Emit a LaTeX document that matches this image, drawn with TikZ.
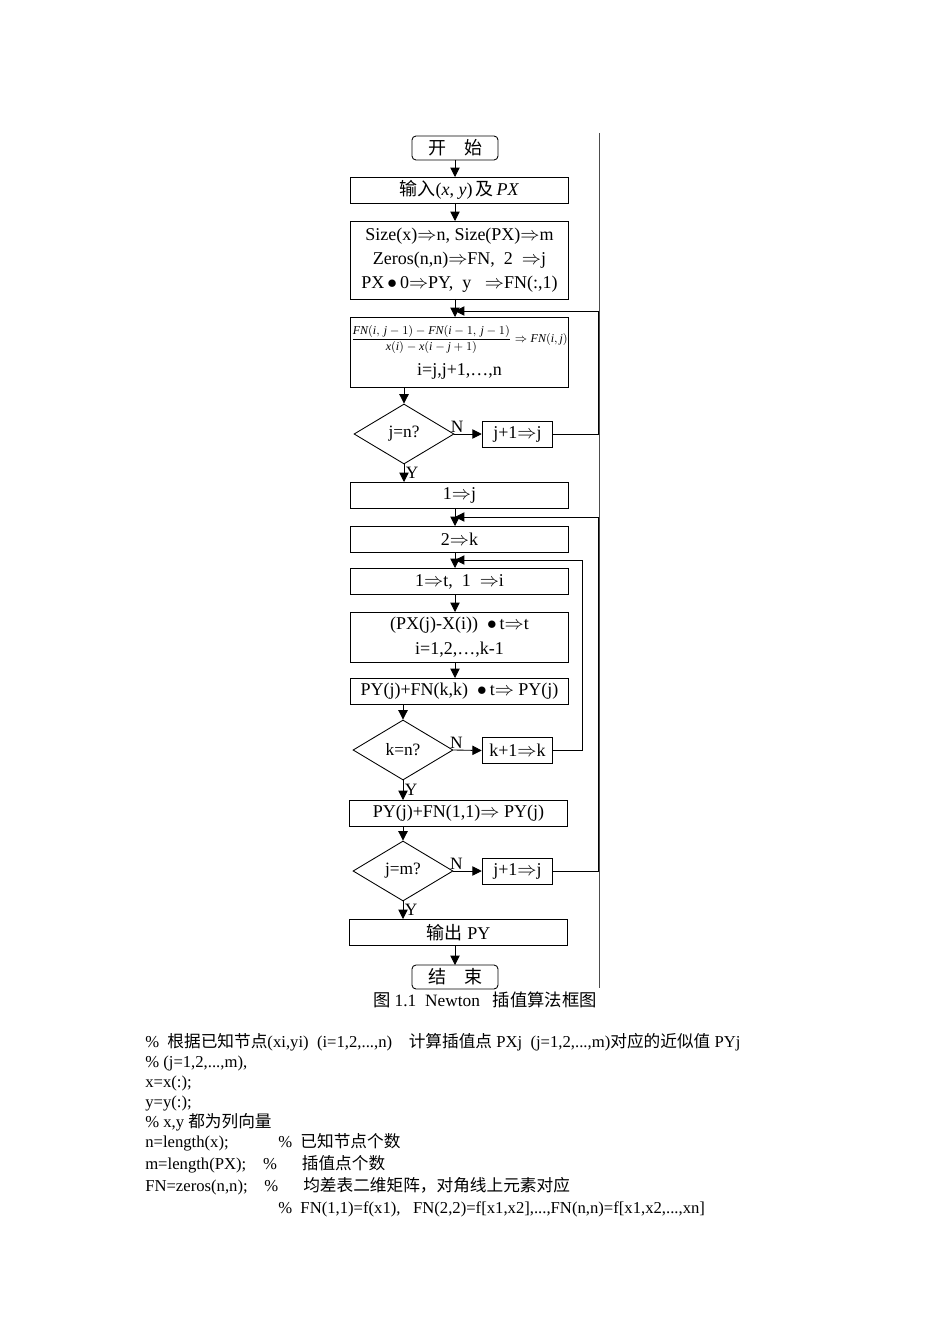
\documentclass[tikz,border=0pt]{standalone}
\usepackage{fontspec}
\setmainfont{Liberation Serif}
\newfontfamily\cjk{Noto Sans CJK SC}
\usetikzlibrary{arrows.meta,shapes.geometric}
\newcommand{\iv}[1]{\textit{#1}}
\begin{document}
\begin{tikzpicture}[x=0.75pt,y=-0.75pt,
  box/.style={draw,line width=0.65pt,inner sep=0pt,align=center,font=\fontsize{13.5}{18}\selectfont},
  term/.style={box,rounded corners=3pt},
  dia/.style={draw,line width=0.65pt,diamond,aspect=1.67,inner sep=0pt,minimum width=75pt,minimum height=45pt,font=\fontsize{13}{14}\selectfont},
  ar/.style={line width=0.65pt,-{Triangle[length=7pt,width=7pt]}},
  ln/.style={line width=0.65pt},
  lab/.style={font=\fontsize{13}{14}\selectfont,inner sep=1pt}]
\useasboundingbox (0,0) rectangle (950,1344);
\node[term,minimum width=64.5pt,minimum height=18pt] (start) at (455,148) {{\cjk 开\quad 始}};
\node[box,minimum width=163pt,minimum height=19.5pt] (in) at (459.5,190) {{\cjk 输入}(\iv{x}, \iv{y})\,{\cjk 及}\,\iv{PX}};
\node[box,minimum width=163pt,minimum height=58.5pt] (init) at (459.5,260) {Size(x)$\Rightarrow$n, Size(PX)$\Rightarrow$m\\Zeros(n,n)$\Rightarrow$FN,\ \ 2\ \ $\Rightarrow$j\\PX\,$\bullet$\,0$\Rightarrow$PY,\ \ y\ \ \ $\Rightarrow$FN(:,1)};
\node[box,minimum width=163pt,minimum height=53pt,font=\fontsize{13.5}{15}\selectfont] (dd) at (459.5,352.5) {\fontsize{9}{10}\selectfont$\displaystyle\frac{\iv{FN}(\iv{i},\,\iv{j}-1)-\iv{FN}(\iv{i}-1,\,\iv{j}-1)}{\iv{x}(\iv{i})-\iv{x}(\iv{i}-\iv{j}+1)}\Rightarrow \iv{FN}(\iv{i},\iv{j})$\\[7pt]\fontsize{13.5}{15}\selectfont i=j,j+1,\dots,n};
\node[dia] (d1) at (404,434) {j=n?};
\node[box,minimum width=53pt,minimum height=19.5pt] (b1) at (517.5,434) {j+1$\Rightarrow$j};
\node[box,minimum width=163pt,minimum height=20pt] (j1) at (459.5,495.5) {1$\Rightarrow$j};
\node[box,minimum width=163pt,minimum height=19.5pt] (k2) at (459.5,539) {2$\Rightarrow$k};
\node[box,minimum width=163pt,minimum height=20pt] (t1) at (459.5,581.5) {1$\Rightarrow$t,\ \ 1\ \ $\Rightarrow$i};
\node[box,minimum width=163pt,minimum height=37.5pt,font=\fontsize{13.5}{19}\selectfont] (pt) at (459.5,637) {(PX(j)-X(i))\ \ $\bullet$\,t$\Rightarrow$t\\i=1,2,\dots,k-1};
\node[box,minimum width=163pt,minimum height=20pt] (py) at (459.5,691.5) {PY(j)+FN(k,k)\ \ $\bullet$\,t$\Rightarrow$\ PY(j)};
\node[dia] (d2) at (403,750) {k=n?};
\node[box,minimum width=53pt,minimum height=20pt] (b2) at (517.5,750.5) {k+1$\Rightarrow$k};
\node[box,minimum width=163pt,minimum height=19.5pt] (py1) at (458.5,813) {PY(j)+FN(1,1)$\Rightarrow$\ PY(j)};
\node[dia] (d3) at (403,871) {j=m?};
\node[box,minimum width=53pt,minimum height=19.5pt] (b3) at (517.5,871) {j+1$\Rightarrow$j};
\node[box,minimum width=163pt,minimum height=20pt] (out) at (458.5,932.5) {{\cjk 输出} PY};
\node[term,minimum width=64.5pt,minimum height=18pt] (end) at (455,977) {{\cjk 结\quad 束}};
\node[font=\fontsize{13}{15}\selectfont] (cap) at (485,1000) {{\cjk 图} 1.1\ \ Newton\ \ \ {\cjk 插值算法框图}};
% main flow
\draw[ar] (455,160) -- (455,177);
\draw[ar] (455,203) -- (455,221);
\draw[ar] (455,299) -- (455,317);
\draw[ar] (404,388) -- (d1.north);
\draw[ar] (d1.east) -- (b1.west) node[lab,pos=0.1,above] {N};
\draw[ar] (d1.south) -- (404,482) node[lab,pos=0.5,right] {Y};
\draw[ar] (455,509) -- (455,526);
\draw[ar] (455,552) -- (455,568);
\draw[ar] (455,595) -- (455,612);
\draw[ar] (455,662) -- (455,678);
\draw[ar] (403,705) -- (d2.north);
\draw[ar] (d2.east) -- (b2.west) node[lab,pos=0.1,above] {N};
\draw[ar] (d2.south) -- (403,800) node[lab,pos=0.5,right] {Y};
\draw[ar] (403,826) -- (d3.north);
\draw[ar] (d3.east) -- (b3.west) node[lab,pos=0.1,above] {N};
\draw[ar] (d3.south) -- (403,919) node[lab,pos=0.5,right] {Y};
\draw[ar] (455,946) -- (455,965);
% feedback
\coordinate (f1) at (455,311);
\coordinate (f2) at (455,517);
\coordinate (f3) at (455,560);
\draw[ar] (b1.east) -- (598,434) -- (598,311) -- (f1);
\draw[ar] (b3.east) -- (598,871) -- (598,517) -- (f2);
\draw[ar] (b2.east) -- (582,750.5) -- (582,560) -- (f3);
\draw[line width=0.5pt,black!70] (599.5,133) -- (599.5,988);
% code text
\begin{scope}[every node/.style={anchor=base west,inner sep=0pt,font=\fontsize{12.5}{14}\selectfont}]
\node (c1) at (145,1047) {\%\ \ {\cjk 根据已知节点}(xi,yi)\ \ (i=1,2,...,n)\ \ \ \ {\cjk 计算插值点} PXj\ \ (j=1,2,...,m){\cjk 对应的近似值} PYj};
\node (c2) at (145,1067) {\% (j=1,2,...,m),};
\node (c3) at (145,1087) {x=x(:);};
\node (c4) at (145,1107) {y=y(:);};
\node (c5) at (145,1127) {\% x,y {\cjk 都为列向量}};
\node (c6) at (145,1147) {n=length(x);};
\node (c6b) at (278,1147) {\%\ \ {\cjk 已知节点个数}};
\node (c7) at (145,1169) {m=length(PX);\ \ \ \ \%\ \ \ \ \ \ {\cjk 插值点个数}};
\node (c8) at (145,1191) {FN=zeros(n,n);\ \ \ \ \%\ \ \ \ \ \ {\cjk 均差表二维矩阵，对角线上元素对应}};
\node (c9) at (278,1213) {\%\ \ FN(1,1)=f(x1),\ \ \ FN(2,2)=f[x1,x2],...,FN(n,n)=f[x1,x2,...,xn]};
\end{scope}
\end{tikzpicture}
\end{document}
